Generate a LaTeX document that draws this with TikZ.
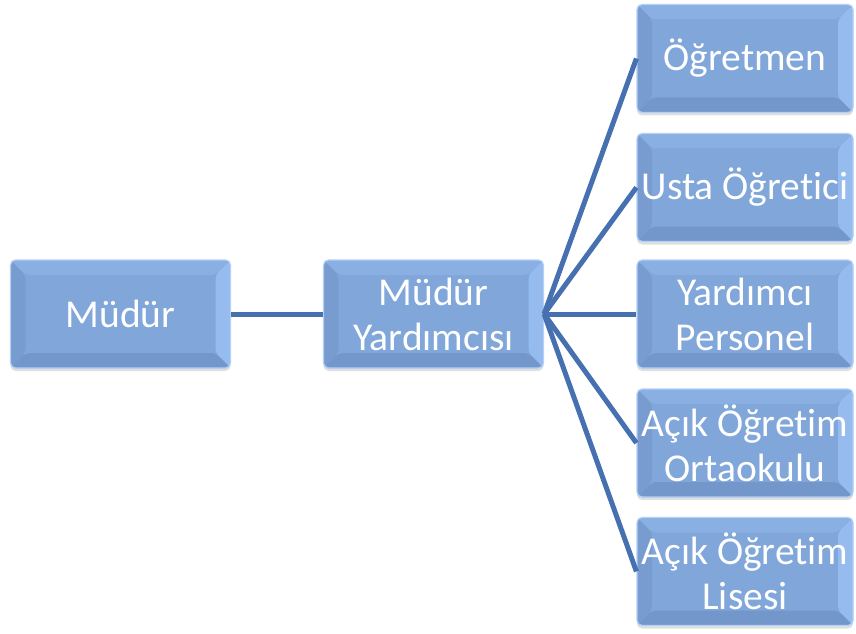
\documentclass[tikz,border=0pt]{standalone}
\usepackage{fontspec}
\setmainfont[Ligatures=NoCommon]{Carlito}
\usetikzlibrary{shadows}

\definecolor{boxfill}{HTML}{80A6DA}
\definecolor{bevtop}{HTML}{8AAFE2}
\definecolor{bevright}{HTML}{96BBEE}
\definecolor{bevleft}{HTML}{789CD0}
\definecolor{bevbottom}{HTML}{7397CB}
\definecolor{boxrim}{HTML}{B2D0F8}
\definecolor{linkblue}{HTML}{4670B0}

\tikzset{
  bevelbox/.style={rectangle, rounded corners=5, fill=boxfill, draw=boxrim, line width=1.2,
    minimum width=#1, minimum height=108, inner sep=0, align=center, text=white,
    font=\fontsize{39.5}{45}\selectfont,
    drop shadow={opacity=0.25, shadow xshift=0, shadow yshift=-3},
    path picture={
      \fill[bevtop] (path picture bounding box.north west) -- (path picture bounding box.north east)
        -- ([shift={(-15,-15)}]path picture bounding box.north east) -- ([shift={(15,-15)}]path picture bounding box.north west) -- cycle;
      \fill[bevright] (path picture bounding box.north east) -- (path picture bounding box.south east)
        -- ([shift={(-15,15)}]path picture bounding box.south east) -- ([shift={(-15,-15)}]path picture bounding box.north east) -- cycle;
      \fill[bevleft] (path picture bounding box.north west) -- (path picture bounding box.south west)
        -- ([shift={(15,15)}]path picture bounding box.south west) -- ([shift={(15,-15)}]path picture bounding box.north west) -- cycle;
      \fill[bevbottom] (path picture bounding box.south west) -- (path picture bounding box.south east)
        -- ([shift={(-15,15)}]path picture bounding box.south east) -- ([shift={(15,15)}]path picture bounding box.south west) -- cycle;
    }},
  bevelbox/.default=220,
  link/.style={draw=linkblue, line width=5}
}

\begin{document}
\begin{tikzpicture}[x=1pt, y=1pt]
\useasboundingbox (0,0) rectangle (856,633);

\node[bevelbox] (mudur) at (120.5,319) {Müdür};
\node[bevelbox] (yardimci) at (433.5,319) {Müdür\\Yardımcısı};

\node[bevelbox=216] (ogretmen) at (745,574.5) {Öğretmen};
\node[bevelbox=216] (usta) at (745,445.5) {Usta Öğretici};
\node[bevelbox=216] (personel) at (745,319) {Yardımcı\\Personel};
\node[bevelbox=216] (ortaokul) at (745,190) {Açık Öğretim\\Ortaokulu};
\node[bevelbox=216] (lise) at (745,61.5) {Açık Öğretim\\Lisesi};

\draw[link] (mudur.east) -- (yardimci.west);
\foreach \n in {ogretmen, usta, personel, ortaokul, lise}
  \draw[link] (yardimci.east) -- (\n.west);
\end{tikzpicture}
\end{document}
